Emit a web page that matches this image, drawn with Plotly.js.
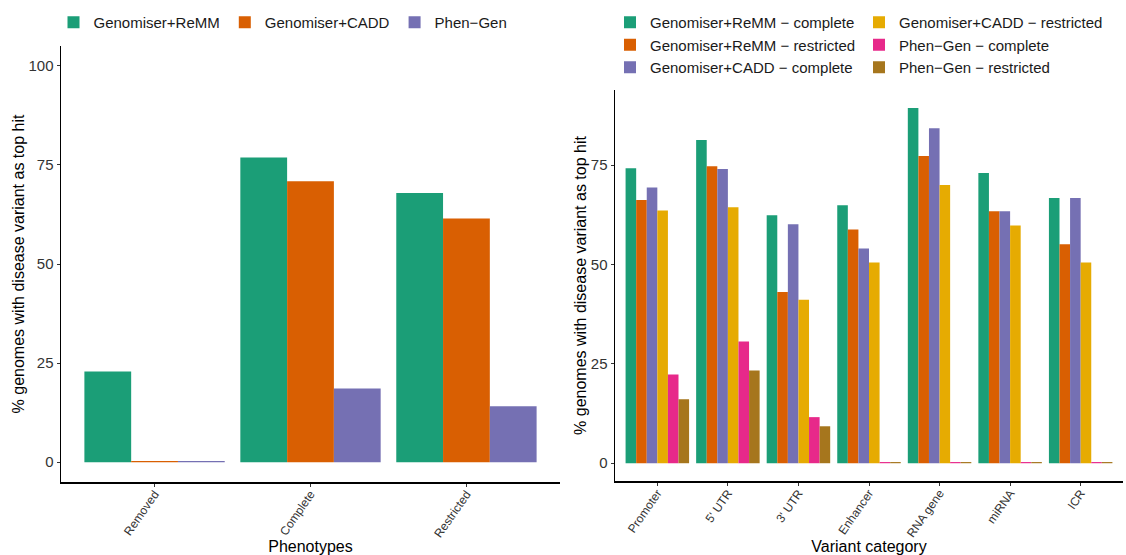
<!DOCTYPE html>
<html>
<head>
<meta charset="utf-8">
<script src="https://cdn.plot.ly/plotly-3.0.1.min.js"></script>
<style>html,body{margin:0;padding:0;background:#fff;}#chart{width:1126px;height:555px;}</style>
</head>
<body>
<div id="chart"></div>
<script>
// ---- Left panel data ----
const phenotypes = ['Removed', 'Complete', 'Restricted'];
const leftNames = ['Genomiser+ReMM', 'Genomiser+CADD', 'Phen\u2212Gen'];
const leftReMM = [22.9, 76.9, 67.9];
const leftCADD = [0.3, 70.9, 61.5];
const leftPhenGen = [0.3, 18.6, 14.1];

// ---- Right panel data ----
const variantCategories = ['Promoter', "5' UTR", "3' UTR", 'Enhancer', 'RNA gene', 'miRNA', 'ICR'];
const rightNames = [
  'Genomiser+ReMM \u2212 complete',
  'Genomiser+ReMM \u2212 restricted',
  'Genomiser+CADD \u2212 complete',
  'Genomiser+CADD \u2212 restricted',
  'Phen\u2212Gen \u2212 complete',
  'Phen\u2212Gen \u2212 restricted'
];
const remmComplete   = [74.2, 81.3, 62.4, 64.9, 89.4, 73.0, 66.7];
const remmRestricted = [66.2, 74.7, 43.1, 58.8, 77.3, 63.4, 55.1];
const caddComplete   = [69.4, 74.0, 60.1, 54.0, 84.3, 63.4, 66.7];
const caddRestricted = [63.6, 64.4, 41.1, 50.5, 70.0, 59.8, 50.5];
const phenComplete   = [22.3, 30.6, 11.6, 0.3, 0.3, 0.3, 0.3];
const phenRestricted = [16.1, 23.3, 9.3, 0.3, 0.3, 0.3, 0.3];

const leftColors = ['#1B9E77', '#D95F02', '#7570B3'];
const rightColors = ['#1B9E77', '#D95F02', '#7570B3', '#E6AB02', '#E7298A', '#A6761D'];

const FONT = 'Liberation Sans, Arial, Helvetica, sans-serif';

const leftSeries = [leftReMM, leftCADD, leftPhenGen];
const rightSeries = [remmComplete, remmRestricted, caddComplete, caddRestricted, phenComplete, phenRestricted];
// legend placement: two columns, column-wise order
const rightLegend = ['legend2', 'legend2', 'legend2', 'legend3', 'legend3', 'legend3'];

const traces = [];
leftSeries.forEach((vals, i) => {
  traces.push({
    type: 'bar', x: phenotypes, y: vals, name: leftNames[i],
    xaxis: 'x', yaxis: 'y', legend: 'legend',
    marker: {color: leftColors[i], line: {width: 0}},
    hoverinfo: 'x+y+name'
  });
});
rightSeries.forEach((vals, i) => {
  traces.push({
    type: 'bar', x: variantCategories, y: vals, name: rightNames[i],
    xaxis: 'x2', yaxis: 'y2', legend: rightLegend[i],
    marker: {color: rightColors[i], line: {width: 0}},
    hoverinfo: 'x+y+name'
  });
});

const W = 1126, H = 555;
const px = v => v / W;
const py = v => (H - v) / H;

const axisCommon = {
  showgrid: false, zeroline: false, showline: true,
  linecolor: '#000', linewidth: 1.5, ticks: 'outside', ticklen: 3,
  tickwidth: 1, tickcolor: '#333'
};

const layout = {
  width: W, height: H,
  margin: {l: 0, r: 0, t: 0, b: 0},
  paper_bgcolor: '#fff', plot_bgcolor: '#fff',
  font: {family: FONT, color: '#1a1a1a'},
  barmode: 'group', bargap: 0.1, bargroupgap: 0,
  xaxis: Object.assign({}, axisCommon, {
    domain: [px(61), px(560)], anchor: 'y',
    type: 'category', range: [-0.6, 2.6],
    tickangle: -55, tickfont: {size: 12, color: '#333'}, ticklabelstandoff: -4,
    title: {text: 'Phenotypes', font: {size: 16, color: '#000'}, standoff: 8}
  }),
  yaxis: Object.assign({}, axisCommon, {
    domain: [py(482), py(46)], anchor: 'x',
    range: [-5, 105], tickvals: [0, 25, 50, 75, 100],
    tickfont: {size: 15, color: '#333'},
    title: {text: '% genomes with disease variant as top hit', font: {size: 16, color: '#000'}, standoff: 0}
  }),
  xaxis2: Object.assign({}, axisCommon, {
    domain: [px(615), px(1123)], anchor: 'y2',
    type: 'category', range: [-0.6, 6.6],
    tickangle: -55, tickfont: {size: 12, color: '#333'}, ticklabelstandoff: -4,
    title: {text: 'Variant category', font: {size: 16, color: '#000'}, standoff: 8}
  }),
  yaxis2: Object.assign({}, axisCommon, {
    domain: [py(481), py(90)], anchor: 'x2',
    range: [-4.47, 93.9], tickvals: [0, 25, 50, 75],
    tickfont: {size: 15, color: '#333'},
    title: {text: '% genomes with disease variant as top hit', font: {size: 16, color: '#000'}, standoff: 0}
  }),
  legend: {
    orientation: 'h', x: px(283), y: 1 - 6 / H, xanchor: 'center', yanchor: 'top',
    font: {size: 15, color: '#1a1a1a'}, bgcolor: 'rgba(0,0,0,0)'
  },
  legend2: {
    orientation: 'v', x: px(610), y: 1 - 6 / H, xanchor: 'left', yanchor: 'top',
    font: {size: 15, color: '#1a1a1a'}, bgcolor: 'rgba(0,0,0,0)'
  },
  legend3: {
    orientation: 'v', x: px(859), y: 1 - 6 / H, xanchor: 'left', yanchor: 'top',
    font: {size: 15, color: '#1a1a1a'}, bgcolor: 'rgba(0,0,0,0)'
  },
  showlegend: true
};

Plotly.newPlot('chart', traces, layout, {displayModeBar: false, staticPlot: true});
</script>
</body>
</html>
